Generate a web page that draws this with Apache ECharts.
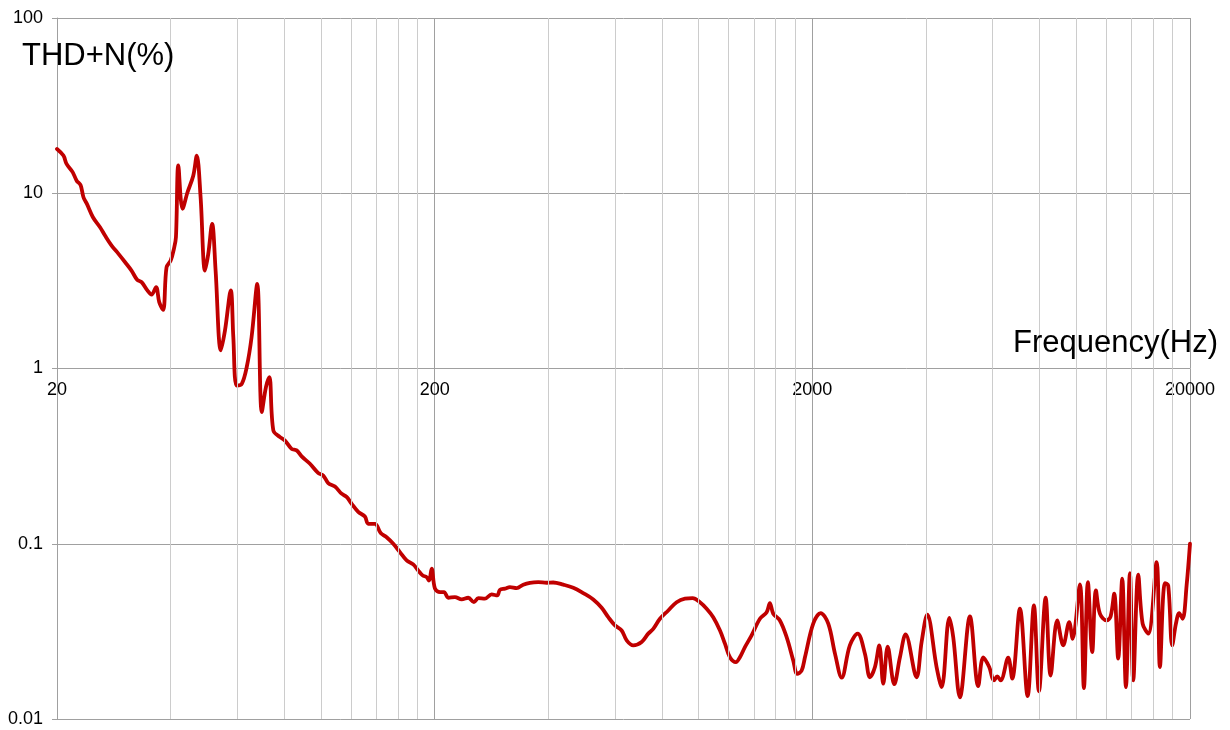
<!DOCTYPE html>
<html>
<head>
<meta charset="utf-8">
<title>THD+N vs Frequency</title>
<script src="https://cdn.jsdelivr.net/npm/echarts@6/dist/echarts.min.js"></script>
<style>
  html, body { margin: 0; padding: 0; background: #ffffff; }
  #chart { width: 1230px; height: 730px; }
</style>
</head>
<body>
<div id="chart"></div>
<script>
// Measured THD+N sweep, 20 Hz – 20 kHz
const freqHz = [
  20, 20.8, 21.2, 22.0, 22.55, 23.1, 23.5, 24.0, 24.9, 26.0,
  26.8, 27.9, 29.1, 30.3, 31.5, 32.6, 33.5, 34.7, 35.6, 36.6,
  37.3, 38.2, 39.0, 40.0, 40.8, 41.3, 41.9, 43.0, 44.3, 45.9,
  46.9, 48.0, 49.3, 50.3, 51.5, 52.6, 54.3, 55.7, 57.7, 58.6,
  59.8, 61.7, 63.6, 65.5, 67.8, 69.7, 71.5, 73.0, 74.8, 77.9,
  80.3, 83.6, 86.2, 88.9, 93.5, 98.4, 101.4, 104.5, 108.9, 113.4,
  116.9, 120.6, 125.5, 130.7, 133.4, 139.0, 143.9, 149.2, 155.4, 161.8,
  168.6, 175.5, 180.9, 185.8, 190.4, 193.2, 196.4, 200.4, 206.6, 211.7,
  217.3, 226.3, 235.8, 245.5, 254.1, 260.9, 271.7, 283.0, 292.9, 297.7,
  306.9, 316.5, 329.7, 343.2, 357.5, 376.1, 395.8, 412.1, 438.1, 465.6,
  494.8, 526.0, 553.6, 576.4, 600.4, 625.4, 644.8, 671.2, 706.4, 735.5,
  758.2, 789.8, 830.8, 874.4, 920.1, 964.1, 1008, 1050, 1093, 1139,
  1174, 1210, 1255, 1286, 1326, 1381, 1453, 1514, 1544, 1576,
  1641, 1710, 1780, 1824, 1874, 1912, 2011, 2104, 2204, 2296,
  2392, 2514, 2636, 2756, 2842, 2930, 3008, 3082, 3166, 3296,
  3412, 3532, 3776, 3894, 4030, 4266, 4400, 4610, 4722, 4918,
  5228, 5498, 5670, 5880, 6052, 6174, 6304, 6602, 6766, 7090,
  7432, 7722, 7962, 8294, 8550, 8902, 9234, 9578, 9778, 10222,
  10474, 10732, 11018, 11268, 11546, 12028, 12326, 12600, 12910, 13230,
  13532, 13866, 14148, 14586, 14982, 15502, 16316, 16648, 17164, 17512,
  17946, 18356, 18728, 19122, 19590, 20000
];
const thdPercent = [
  17.9, 16.4, 14.7, 13.2, 11.8, 11.1, 9.49, 8.70, 7.30, 6.40,
  5.74, 5.03, 4.51, 4.04, 3.62, 3.21, 3.11, 2.79, 2.64, 2.91,
  2.39, 2.16, 3.78, 4.13, 4.82, 5.61, 14.4, 8.15, 10.1, 12.6,
  16.4, 9.49, 3.62, 4.51, 6.69, 3.62, 1.27, 1.65, 2.79, 1.51,
  0.800, 0.818, 1.02, 1.51, 3.04, 0.563, 0.782, 0.892, 0.443, 0.406,
  0.388, 0.348, 0.341, 0.315, 0.286, 0.253, 0.245, 0.222, 0.212, 0.193,
  0.185, 0.169, 0.152, 0.143, 0.130, 0.130, 0.115, 0.109, 0.100, 0.0896,
  0.0803, 0.0762, 0.0704, 0.0660, 0.0645, 0.0617, 0.0720, 0.0554, 0.0530, 0.0530,
  0.0492, 0.0496, 0.0481, 0.0492, 0.0464, 0.0489, 0.0486, 0.0514, 0.0507, 0.0546,
  0.0554, 0.0565, 0.0558, 0.0584, 0.0599, 0.0604, 0.0599, 0.0601, 0.0584, 0.0561,
  0.0523, 0.0481, 0.0431, 0.0381, 0.0342, 0.0320, 0.0281, 0.0263, 0.0275, 0.0307,
  0.0327, 0.0373, 0.0416, 0.0464, 0.0486, 0.0489, 0.0464, 0.0426, 0.0381, 0.0320,
  0.0269, 0.0225, 0.0211, 0.0225, 0.0257, 0.0300, 0.0373, 0.0407, 0.0458, 0.0399,
  0.0365, 0.0293, 0.0216, 0.0181, 0.0189, 0.0225, 0.0350, 0.0402, 0.0350, 0.0236,
  0.0172, 0.0263, 0.0307, 0.0236, 0.0173, 0.0198, 0.0263, 0.0159, 0.0259, 0.0158,
  0.0225, 0.0304, 0.0173, 0.0275, 0.0394, 0.0198, 0.0152, 0.0378, 0.0293, 0.0133,
  0.0385, 0.0154, 0.0225, 0.0198, 0.0166, 0.0175, 0.0166, 0.0224, 0.0170, 0.0426,
  0.0135, 0.0445, 0.0144, 0.0492, 0.0177, 0.0365, 0.0263, 0.0357, 0.0287, 0.0586,
  0.0150, 0.0604, 0.0241, 0.0542, 0.0399, 0.0365, 0.0385, 0.0519, 0.0221, 0.0632,
  0.0152, 0.0679, 0.0166, 0.0666, 0.0350, 0.0307, 0.0785, 0.0198, 0.0596, 0.0578,
  0.0263, 0.0350, 0.0402, 0.0373, 0.0578, 0.100
];

// Labelled frequency ticks and the lighter in-between grid lines
const decadeTicks = [20, 200, 2000, 20000];
const minorGridHz = [
  40, 60, 80, 100, 120, 140, 160, 180,
  400, 600, 800, 1000, 1200, 1400, 1600, 1800,
  4000, 6000, 8000, 10000, 12000, 14000, 16000, 18000
];

const yTitle = 'THD+N(%)';
const xTitle = 'Frequency(Hz)';

const FONT = '"Liberation Sans", Arial, Helvetica, sans-serif';
const MAJOR = '#a0a0a0';
const MINOR = '#cccccc';
const CURVE = '#c00000';

const CHART_H = 730;
const GRID = { left: 57, right: 40, top: 18, bottom: 11 };
const Y_MIN = 0.01, Y_MAX = 100;

// The frequency axis crosses the value axis at 1 %
const plotH = CHART_H - GRID.top - GRID.bottom;
const crossFrac = (Math.log10(1) - Math.log10(Y_MIN)) / (Math.log10(Y_MAX) - Math.log10(Y_MIN));
const xAxisOffset = -plotH * crossFrac;

const seriesData = freqHz.map((f, i) => [f, thdPercent[i]]);

const plainNumber = v => String(parseFloat(Number(v).toPrecision(6)));

const chart = echarts.init(document.getElementById('chart'), null, { renderer: 'canvas' });

chart.setOption({
  animation: false,
  backgroundColor: '#ffffff',
  textStyle: { fontFamily: FONT },
  title: [
    {
      text: yTitle, left: 22, top: 41, padding: 0,
      textStyle: { fontSize: 31, fontWeight: 'normal', color: '#000000', fontFamily: FONT }
    },
    {
      text: xTitle, right: 12, top: 328, padding: 0,
      textStyle: { fontSize: 31, fontWeight: 'normal', color: '#000000', fontFamily: FONT }
    }
  ],
  grid: { left: GRID.left, right: GRID.right, top: GRID.top, bottom: GRID.bottom, containLabel: false },
  xAxis: {
    type: 'log',
    logBase: 10,
    min: 20,
    max: 20000,
    offset: xAxisOffset,
    axisLine: { show: false },
    axisTick: { show: false, customValues: decadeTicks },
    axisLabel: {
      customValues: decadeTicks,
      color: '#000000',
      fontSize: 18,
      fontFamily: FONT,
      margin: 13,
      formatter: plainNumber
    },
    splitLine: { show: true, lineStyle: { color: MAJOR, width: 1 } }
  },
  yAxis: {
    type: 'log',
    logBase: 10,
    min: Y_MIN,
    max: Y_MAX,
    axisLine: { show: true, lineStyle: { color: MAJOR, width: 1 } },
    axisTick: { show: true, length: 5, lineStyle: { color: MAJOR, width: 1 } },
    axisLabel: {
      color: '#000000',
      fontSize: 18,
      fontFamily: FONT,
      margin: 14,
      formatter: plainNumber
    },
    splitLine: { show: true, lineStyle: { color: MAJOR, width: 1 } }
  },
  series: [
    {
      // light vertical grid between the labelled frequencies
      type: 'line',
      data: [],
      z: 1,
      silent: true,
      markLine: {
        silent: true,
        symbol: ['none', 'none'],
        label: { show: false },
        lineStyle: { color: MINOR, width: 1, type: 'solid' },
        emphasis: { disabled: true },
        data: minorGridHz.map(v => ({ xAxis: v }))
      }
    },
    {
      name: 'THD+N',
      type: 'line',
      z: 3,
      data: seriesData,
      showSymbol: false,
      symbol: 'none',
      smooth: 0.35,
      lineStyle: { color: CURVE, width: 3.8, cap: 'round', join: 'round' },
      itemStyle: { color: CURVE }
    }
  ]
});
</script>
</body>
</html>
